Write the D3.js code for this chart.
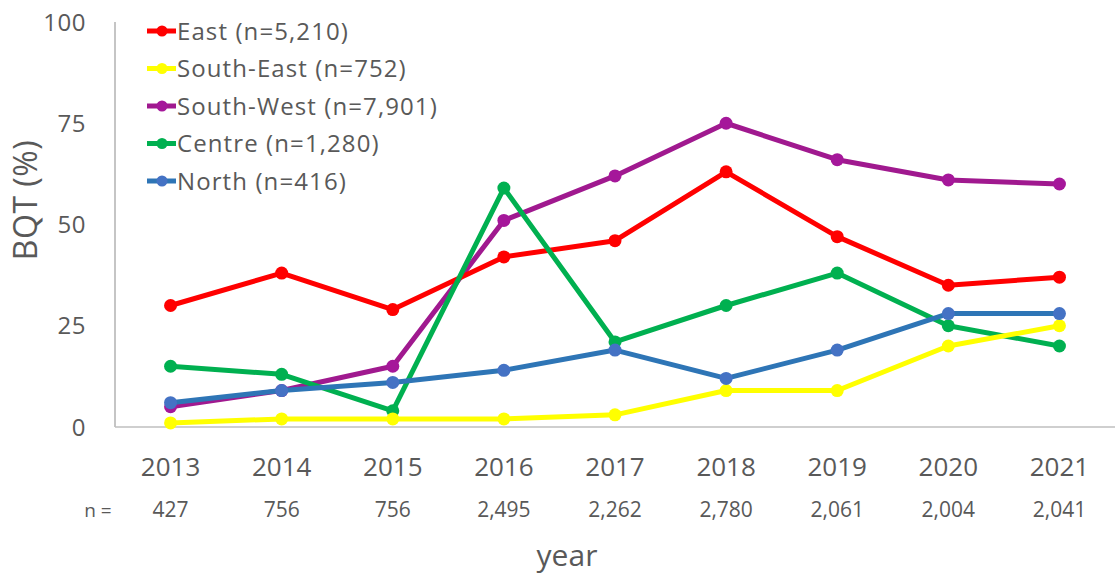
<!DOCTYPE html>
<html><head><meta charset="utf-8">
<script src="https://cdn.jsdelivr.net/npm/d3@7"></script>
<style>body{margin:0;background:#fff}svg{display:block;font-family:"Open Sans",Lato,sans-serif}</style>
</head><body><svg id="c" width="1118" height="576"></svg>
<script>
const years = ["2013","2014","2015","2016","2017","2018","2019","2020","2021"];
const nCounts = ["427","756","756","2,495","2,262","2,780","2,061","2,004","2,041"];
const yTicks = [0,25,50,75,100];
const seriesNames = ["East (n=5,210)","South-East (n=752)","South-West (n=7,901)","Centre (n=1,280)","North (n=416)"];
const eastVals = [30,38,29,42,46,63,47,35,37];
const southEastVals = [1,2,2,2,3,9,9,20,25];
const southWestVals = [5,9,15,51,62,75,66,61,60];
const centreVals = [15,13,4,59,21,30,38,25,20];
const northVals = [6,9,11,14,19,12,19,28,28];
const lineColors = ["#FF0000","#FFFF00","#A0198F","#00B050","#2E75B6"];
const markerColors = ["#FF0000","#FFFF00","#A5179A","#00B050","#4472C4"];

const series = [eastVals, southEastVals, southWestVals, centreVals, northVals].map((v,i)=>({name:seriesNames[i], values:v, line:lineColors[i], marker:markerColors[i]}));
const drawOrder = [2,0,3,1,4];

const svg = d3.select("#c");
const pLeft=115, pRight=1115, pTop=22, pBottom=427;
const x = d3.scalePoint().domain(years).range([pLeft,pRight]).padding(0.5);
const y = d3.scaleLinear().domain([0,100]).range([pBottom,pTop]);
const txt="#595959";

svg.append("line").attr("x1",pLeft).attr("x2",pLeft).attr("y1",pTop).attr("y2",pBottom).attr("stroke","#A6A6A6").attr("stroke-width",1.3);
svg.append("line").attr("x1",pLeft).attr("x2",pRight).attr("y1",pBottom).attr("y2",pBottom).attr("stroke","#BFBFBF").attr("stroke-width",1.5);

svg.append("g").selectAll("text").data(yTicks).join("text")
  .attr("x",86).attr("y",d=>y(d)).attr("dy","0.36em").attr("text-anchor","end")
  .attr("font-size",24).attr("letter-spacing",0.5).attr("fill",txt).text(d=>d);

svg.append("g").selectAll("text").data(years).join("text")
  .attr("x",d=>x(d)).attr("y",476).attr("text-anchor","middle")
  .attr("font-size",26).attr("fill",txt).text(d=>d);
svg.append("g").selectAll("text").data(years).join("text")
  .attr("x",(d,i)=>x(d)).attr("y",517).attr("text-anchor","middle")
  .attr("font-size",21).attr("fill",txt).text((d,i)=>nCounts[i]);
svg.append("text").attr("x",98).attr("y",517).attr("text-anchor","middle").attr("font-size",19).attr("fill",txt).text("n =");

svg.append("text").attr("x",567).attr("y",566).attr("text-anchor","middle").attr("font-size",30).attr("fill",txt).text("year");
svg.append("text").attr("transform","translate(37,200) rotate(-90)").attr("text-anchor","middle").attr("font-size",32).attr("letter-spacing",0.5).attr("fill",txt).text("BQT (%)");

const line = d3.line().x((d,i)=>x(years[i])).y(d=>y(d));
drawOrder.forEach(k=>{
  const s=series[k];
  const g=svg.append("g");
  g.append("path").attr("d",line(s.values)).attr("fill","none").attr("stroke",s.line).attr("stroke-width",5).attr("stroke-linejoin","round");
  g.selectAll("circle").data(s.values).join("circle").attr("cx",(d,i)=>x(years[i])).attr("cy",d=>y(d)).attr("r",6.5).attr("fill",s.marker);
});

const lg = svg.append("g");
series.forEach((s,i)=>{
  const yy = 31 + i*37.5;
  lg.append("line").attr("x1",147).attr("x2",176).attr("y1",yy).attr("y2",yy).attr("stroke",s.line).attr("stroke-width",5);
  lg.append("circle").attr("cx",162).attr("cy",yy).attr("r",5.5).attr("fill",s.marker);
  lg.append("text").attr("x",177).attr("y",yy).attr("dy","0.36em").attr("font-size",24).attr("letter-spacing",1.1).attr("fill",txt).text(s.name);
});
</script></body></html>
